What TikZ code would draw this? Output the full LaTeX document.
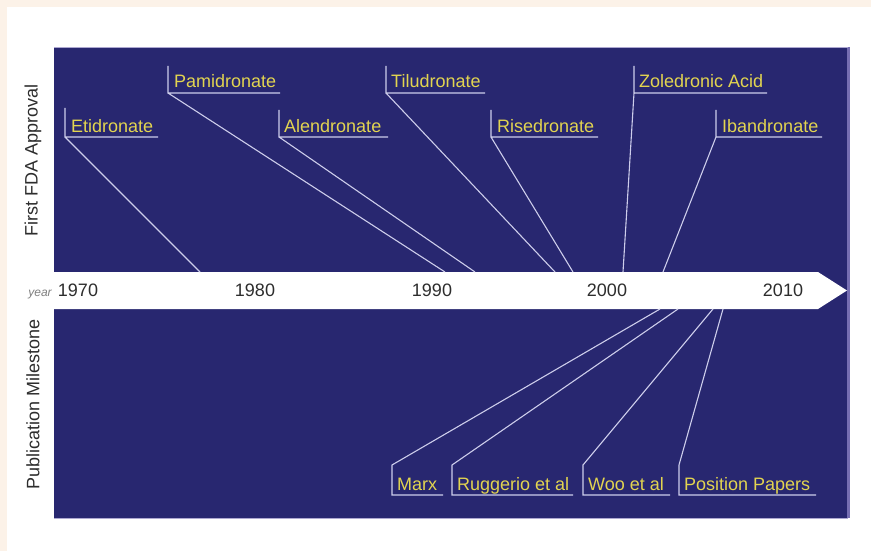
\documentclass[tikz,border=0pt]{standalone}
\usepackage{fontspec}
\setmainfont{Liberation Sans}
\usetikzlibrary{positioning}
\definecolor{panelblue}{RGB}{40,39,112}
\definecolor{paneledge}{RGB}{118,110,178}
\definecolor{labyellow}{RGB}{226,212,80}
\definecolor{callgray}{RGB}{205,205,235}
\definecolor{cream}{RGB}{252,242,232}
\definecolor{yeargray}{RGB}{45,45,45}

\tikzset{
  drug/.style={anchor=base west,inner sep=0pt,text=labyellow,font=\fontsize{18}{18}\selectfont},
  callout/.style={draw=callgray,line width=1.1pt},
  yr/.style={inner sep=0pt,text=yeargray,font=\fontsize{18}{18}\selectfont},
  side/.style={rotate=90,inner sep=0pt,text=yeargray,font=\fontsize{18}{18}\selectfont}
}

\begin{document}
\begin{tikzpicture}[x=1pt,y=-1pt]
      \useasboundingbox (0,0) rectangle (871,551);
      % background and panel
      \fill[white] (0,0) rectangle (871,551);
      \fill[cream] (0,0) rectangle (871,7);
      \fill[cream] (0,0) rectangle (7,551);
      \fill[panelblue] (54,47) rectangle (848,518);
      \draw[paneledge,line width=3pt] (848,47) -- (848,518);
      \draw[paneledge!60,line width=0.8pt] (54,47) -- (848,47);
      \draw[paneledge!60,line width=0.8pt] (54,518) -- (848,518);
      % time axis
      \fill[white] (7,272) -- (818,272) -- (847,290.5) -- (818,309) -- (7,309) -- cycle;
      \node[inner sep=0pt,text=gray,font=\fontsize{12}{12}\selectfont\itshape,anchor=base] (yr) at (40,296) {year};
      \node[yr,anchor=base] (y1970) at (78,296) {1970};
      \node[yr,anchor=base] (y1980) at (255,296) {1980};
      \node[yr,anchor=base] (y1990) at (432,296) {1990};
      \node[yr,anchor=base] (y2000) at (607,296) {2000};
      \node[yr,anchor=base] (y2010) at (783,296) {2010};
      % side titles
      \node[side] (fda) at (33,160) {First FDA Approval};
      \node[side] (pub) at (33,404) {Publication Milestone};

      % first FDA approval
      \coordinate (etiT) at (65,108); \coordinate (etiC) at (65,137);
      \coordinate (etiE) at (158,137); \coordinate (etiB) at (200,272);
      \node[drug] (eti) at (71,132) {Etidronate};
      \draw[callout] (etiT) -- (etiC) -- (etiE) (etiC) -- (etiB);

      \coordinate (pamT) at (168,66); \coordinate (pamC) at (168,93);
      \coordinate (pamE) at (280,93); \coordinate (pamB) at (445,272);
      \node[drug] (pam) at (174,88) {Pamidronate};
      \draw[callout] (pamT) -- (pamC) -- (pamE) (pamC) -- (pamB);

      \coordinate (aleT) at (279,110); \coordinate (aleC) at (279,137);
      \coordinate (aleE) at (388,137); \coordinate (aleB) at (475,272);
      \node[drug] (ale) at (284,132) {Alendronate};
      \draw[callout] (aleT) -- (aleC) -- (aleE) (aleC) -- (aleB);

      \coordinate (tilT) at (386,66); \coordinate (tilC) at (386,93);
      \coordinate (tilE) at (485,93); \coordinate (tilB) at (555,272);
      \node[drug] (til) at (391,88) {Tiludronate};
      \draw[callout] (tilT) -- (tilC) -- (tilE) (tilC) -- (tilB);

      \coordinate (risT) at (491,110); \coordinate (risC) at (491,137);
      \coordinate (risE) at (598,137); \coordinate (risB) at (573,272);
      \node[drug] (ris) at (497,132) {Risedronate};
      \draw[callout] (risT) -- (risC) -- (risE) (risC) -- (risB);

      \coordinate (zolT) at (634,66); \coordinate (zolC) at (634,93);
      \coordinate (zolE) at (767,93); \coordinate (zolB) at (623,272);
      \node[drug] (zol) at (639,88) {Zoledronic Acid};
      \draw[callout] (zolT) -- (zolC) -- (zolE) (zolC) -- (zolB);

      \coordinate (ibaT) at (716,110); \coordinate (ibaC) at (716,137);
      \coordinate (ibaE) at (822,137); \coordinate (ibaB) at (663,272);
      \node[drug] (iba) at (722,132) {Ibandronate};
      \draw[callout] (ibaT) -- (ibaC) -- (ibaE) (ibaC) -- (ibaB);

      % publication milestones
      \coordinate (marT) at (392,465); \coordinate (marC) at (392,495);
      \coordinate (marE) at (443,495); \coordinate (marB) at (660,309);
      \node[drug] (mar) at (397,490) {Marx};
      \draw[callout] (marE) -- (marC) -- (marT) -- (marB);

      \coordinate (rugT) at (452,465); \coordinate (rugC) at (452,495);
      \coordinate (rugE) at (573,495); \coordinate (rugB) at (678,309);
      \node[drug] (rug) at (457,490) {Ruggerio et al};
      \draw[callout] (rugE) -- (rugC) -- (rugT) -- (rugB);

      \coordinate (wooT) at (583,465); \coordinate (wooC) at (583,495);
      \coordinate (wooE) at (670,495); \coordinate (wooB) at (713,309);
      \node[drug] (woo) at (588,490) {Woo et al};
      \draw[callout] (wooE) -- (wooC) -- (wooT) -- (wooB);

      \coordinate (posT) at (679,465); \coordinate (posC) at (679,495);
      \coordinate (posE) at (816,495); \coordinate (posB) at (723,309);
      \node[drug] (pos) at (684,490) {Position Papers};
      \draw[callout] (posE) -- (posC) -- (posT) -- (posB);
\end{tikzpicture}
\end{document}
